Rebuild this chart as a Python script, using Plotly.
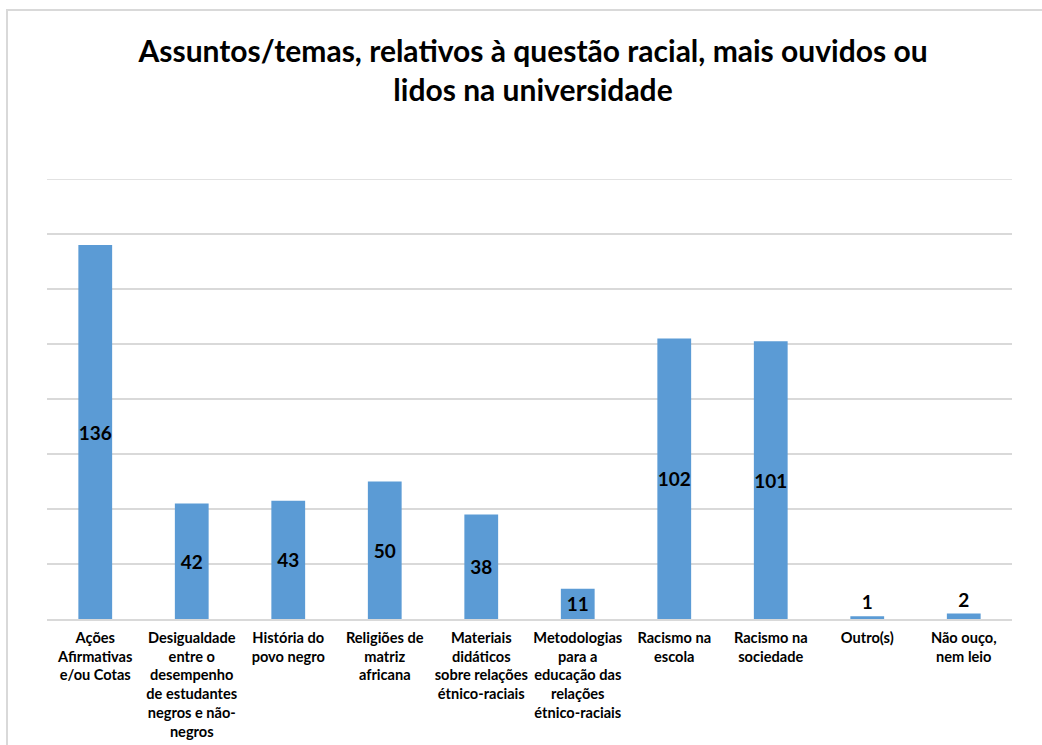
import plotly.graph_objects as go

categories = [
    "Ações<br>Afirmativas<br>e/ou Cotas",
    "Desigualdade<br>entre o<br>desempenho<br>de estudantes<br>negros e não-<br>negros",
    "História do<br>povo negro",
    "Religiões de<br>matriz<br>africana",
    "Materiais<br>didáticos<br>sobre relações<br>étnico-raciais",
    "Metodologias<br>para a<br>educação das<br>relações<br>étnico-raciais",
    "Racismo na<br>escola",
    "Racismo na<br>sociedade",
    "Outro(s)",
    "Não ouço,<br>nem leio",
]
values = [136, 42, 43, 50, 38, 11, 102, 101, 1, 2]
text_positions = ["inside"] * 8 + ["outside"] * 2

FONT = "Lato"
W, H = 1042, 745
ML, MR, MT, MB = 47, 30, 179, 126
pw = W - ML - MR
ph = H - MT - MB

fig = go.Figure(go.Bar(
    x=categories,
    y=values,
    marker=dict(color="#5b9bd5", line=dict(width=0)),
    text=[str(v) for v in values],
    textposition=text_positions,
    textangle=0,
    insidetextanchor="middle",
    textfont=dict(family=FONT, size=19, color="black", weight="bold"),
    cliponaxis=False,
))

fig.update_layout(
    width=W, height=H,
    margin=dict(l=ML, r=MR, t=MT, b=MB, autoexpand=False),
    paper_bgcolor="white",
    plot_bgcolor="white",
    bargap=0.65,
    showlegend=False,
    uniformtext=dict(minsize=19, mode="show"),
    title=dict(
        text="Assuntos/temas, relativos à questão racial, mais ouvidos ou<br>lidos na universidade",
        x=533 / W, xanchor="center",
        y=1 - 62 / H, yanchor="middle",
        font=dict(family=FONT, size=30, color="black", weight="bold"),
    ),
    xaxis=dict(
        tickfont=dict(family=FONT, size=14.6, color="black", weight="bold"),
        showline=True, linecolor="#d9d9d9", linewidth=2,
        ticks="", showgrid=False,
        ticklabelstandoff=4,
        automargin=False,
    ),
    yaxis=dict(
        range=[0, 160], dtick=20,
        showticklabels=False,
        showgrid=True, gridcolor="#d9d9d9", gridwidth=1.5,
        zeroline=False, ticks="",
        automargin=False,
    ),
    shapes=[
        dict(
            type="rect", xref="paper", yref="paper",
            x0=(7 - ML) / pw, x1=(W + 20 - ML) / pw,
            y0=-(H + 20 - (H - MB)) / ph, y1=((H - MB) - 10) / ph,
            line=dict(color="#d9d9d9", width=2),
            layer="below",
        ),
        dict(
            type="line", xref="paper", yref="y",
            x0=0, x1=1, y0=160, y1=160,
            line=dict(color="#d9d9d9", width=1.5),
            layer="below",
        ),
    ],
)

fig.write_html("out.html")
